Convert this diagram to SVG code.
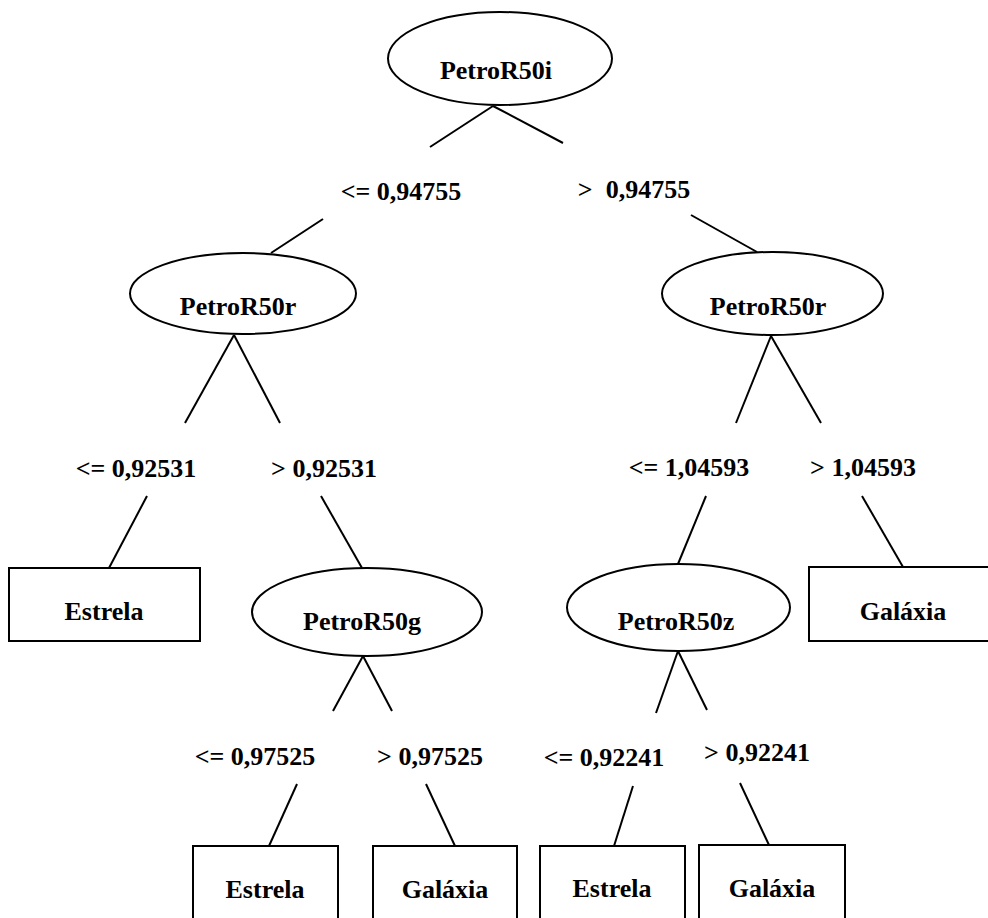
<svg xmlns="http://www.w3.org/2000/svg" width="988" height="918" viewBox="0 0 988 918">
<style>
.n{fill:#fff;stroke:#000;stroke-width:2}
.t{font-family:"Liberation Serif","Times New Roman",serif;font-weight:bold;font-size:26px;fill:#000;text-anchor:middle}
.c line{stroke:#000;stroke-width:2}
</style>
<rect x="0" y="0" width="988" height="918" fill="#fff"/>
<g id="connectors" class="c">
<line x1="493" y1="106" x2="430" y2="147"/>
<line x1="493" y1="106" x2="563" y2="143"/>
<line x1="323" y1="219" x2="271" y2="253"/>
<line x1="691" y1="215" x2="757" y2="252"/>
<line x1="234" y1="335" x2="185" y2="423"/>
<line x1="234" y1="335" x2="280" y2="423"/>
<line x1="147" y1="496" x2="109" y2="568"/>
<line x1="321" y1="496" x2="362" y2="568"/>
<line x1="771" y1="336" x2="736" y2="423"/>
<line x1="771" y1="336" x2="821" y2="423"/>
<line x1="706" y1="496" x2="678" y2="564"/>
<line x1="862" y1="496" x2="903" y2="567"/>
<line x1="363" y1="656" x2="333" y2="711"/>
<line x1="363" y1="656" x2="392" y2="711"/>
<line x1="297" y1="784" x2="269" y2="846"/>
<line x1="426" y1="784" x2="455" y2="846"/>
<line x1="678" y1="651" x2="656" y2="713"/>
<line x1="678" y1="651" x2="707" y2="710"/>
<line x1="633" y1="786" x2="614" y2="846"/>
<line x1="740" y1="783" x2="769" y2="845"/>
</g>
<g id="labels">
<text class="t" x="401" y="200">&lt;= 0,94755</text>
<text class="t" x="634" y="198" xml:space="preserve">&gt;  0,94755</text>
<text class="t" x="136" y="477">&lt;= 0,92531</text>
<text class="t" x="324" y="477">&gt; 0,92531</text>
<text class="t" x="689" y="476">&lt;= 1,04593</text>
<text class="t" x="863" y="476">&gt; 1,04593</text>
<text class="t" x="255" y="765">&lt;= 0,97525</text>
<text class="t" x="430" y="765">&gt; 0,97525</text>
<text class="t" x="604" y="766">&lt;= 0,92241</text>
<text class="t" x="757" y="761">&gt; 0,92241</text>
</g>
<g id="root">
<ellipse class="n" cx="500" cy="58.5" rx="112" ry="46.5"/>
<text class="t" x="496" y="79">PetroR50i</text>
</g>
<g id="r_left">
<ellipse class="n" cx="243" cy="293.5" rx="113" ry="40.5"/>
<text class="t" x="238" y="315">PetroR50r</text>
</g>
<g id="r_right">
<ellipse class="n" cx="772.5" cy="293.5" rx="110.5" ry="41.5"/>
<text class="t" x="768" y="315">PetroR50r</text>
</g>
<g id="g_node">
<ellipse class="n" cx="367" cy="612" rx="115" ry="44"/>
<text class="t" x="362" y="630">PetroR50g</text>
</g>
<g id="z_node">
<ellipse class="n" cx="678.5" cy="607.5" rx="111.5" ry="43.5"/>
<text class="t" x="676" y="630">PetroR50z</text>
</g>
<g id="leaf_estrela1">
<rect class="n" x="9" y="568" width="191" height="73"/>
<text class="t" x="104" y="620">Estrela</text>
</g>
<g id="leaf_galaxia1">
<rect class="n" x="809" y="567" width="200" height="74"/>
<text class="t" x="903" y="620">Galáxia</text>
</g>
<g id="leaf_estrela2">
<rect class="n" x="193" y="846" width="145" height="90"/>
<text class="t" x="265" y="898">Estrela</text>
</g>
<g id="leaf_galaxia2">
<rect class="n" x="373" y="846" width="144" height="90"/>
<text class="t" x="445" y="898">Galáxia</text>
</g>
<g id="leaf_estrela3">
<rect class="n" x="540" y="846" width="145" height="90"/>
<text class="t" x="612" y="897">Estrela</text>
</g>
<g id="leaf_galaxia3">
<rect class="n" x="699" y="845" width="146" height="90"/>
<text class="t" x="772" y="897">Galáxia</text>
</g>
</svg>
